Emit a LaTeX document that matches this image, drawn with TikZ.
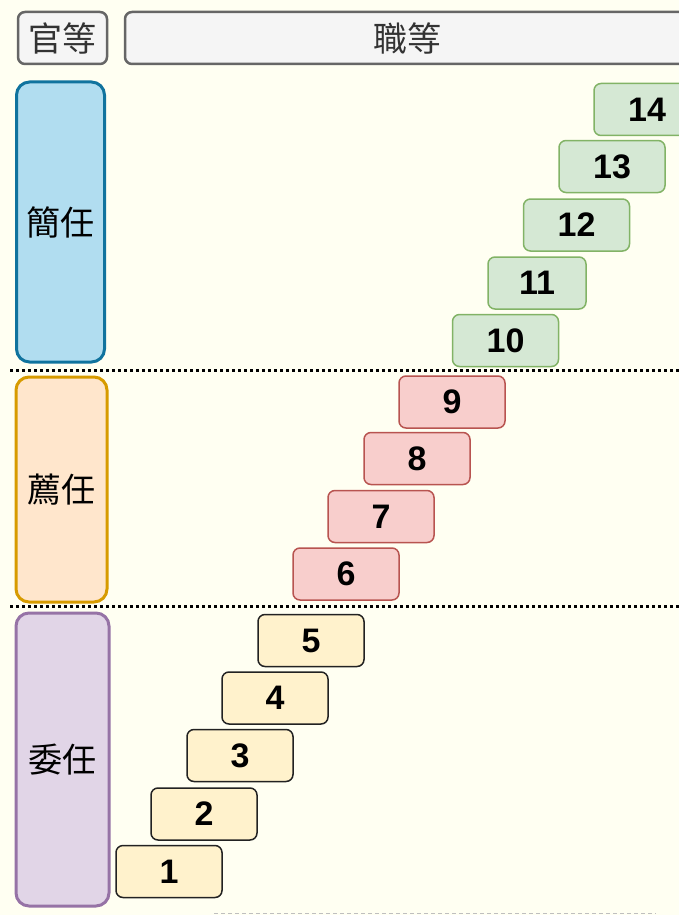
\documentclass[tikz,border=0pt]{standalone}
\usepackage{fontspec}
\setmainfont{Liberation Sans}
\newfontfamily\cjkfont{Noto Sans CJK TC}
\usetikzlibrary{positioning}
\definecolor{paper}{HTML}{FFFFF2}
\definecolor{headfill}{HTML}{F5F5F5}
\definecolor{headline}{HTML}{666666}
\definecolor{jianfill}{HTML}{B1DDF0}
\definecolor{jianline}{HTML}{10739E}
\definecolor{chuanfill}{HTML}{FFE6CC}
\definecolor{chuanline}{HTML}{D79B00}
\definecolor{weifill}{HTML}{E1D5E7}
\definecolor{weiline}{HTML}{9673A6}
\definecolor{gfill}{HTML}{D5E8D4}
\definecolor{gline}{HTML}{82B366}
\definecolor{rfill}{HTML}{F8CECC}
\definecolor{rline}{HTML}{B85450}
\definecolor{yfill}{HTML}{FFF2CC}
\definecolor{yline}{HTML}{222222}
\tikzset{
  head/.style={draw=headline,fill=headfill,line width=2.5pt,rounded corners=7pt,
    minimum height=52pt,inner sep=0pt,text=black!80,font=\cjkfont\fontsize{34}{34}\selectfont},
  rank/.style={line width=3pt,rounded corners=13pt,inner sep=0pt,
    font=\cjkfont\fontsize{34}{34}\selectfont},
  grade/.style={line width=1.5pt,rounded corners=7pt,minimum width=106pt,minimum height=52pt,
    inner sep=0pt,font=\bfseries\fontsize{34}{34}\selectfont},
  gr/.style={grade,draw=gline,fill=gfill},
  rr/.style={grade,draw=rline,fill=rfill},
  yr/.style={grade,draw=yline,fill=yfill},
  sep/.style={line width=3pt,dash pattern=on 3pt off 3pt}
}
\begin{document}
\begin{tikzpicture}[x=1pt,y=-1pt]
\clip (0,0) rectangle (679,915);
\fill[paper] (0,0) rectangle (679,915);

\node[head,minimum width=89pt] (guan) at (62.5,38) {官等};
\node[head,minimum width=564pt] (zhi) at (407,38) {職等};

\node[rank,draw=jianline,fill=jianfill,minimum width=88pt,minimum height=280pt] (jian) at (60.5,222) {簡任};
\node[rank,draw=chuanline,fill=chuanfill,minimum width=91pt,minimum height=225pt] (chuan) at (61.5,489.5) {薦任};
\node[rank,draw=weiline,fill=weifill,minimum width=93pt,minimum height=293pt] (wei) at (62.5,759.5) {委任};

\draw[sep] (10,370) -- (679,370);
\draw[sep] (10,606) -- (679,606);
\draw[gray!50,line width=1pt,dash pattern=on 4pt off 3pt] (214,913) -- (656,913);

\node[yr] (g1) at (169,871.5) {1};
\node[yr] (g2) at (204,814) {2};
\node[yr] (g3) at (240,755.5) {3};
\node[yr] (g4) at (275,698) {4};
\node[yr] (g5) at (311,640.5) {5};

\node[rr] (g6) at (346,574) {6};
\node[rr] (g7) at (381,516.5) {7};
\node[rr] (g8) at (417,458.5) {8};
\node[rr] (g9) at (452,402) {9};

\node[gr] (g10) at (505.5,340.5) {10};
\node[gr,minimum width=98pt] (g11) at (537,283) {11};
\node[gr] (g12) at (576.5,225) {12};
\node[gr] (g13) at (612,166.5) {13};
\node[gr] (g14) at (647,109.5) {14};
\end{tikzpicture}
\end{document}
